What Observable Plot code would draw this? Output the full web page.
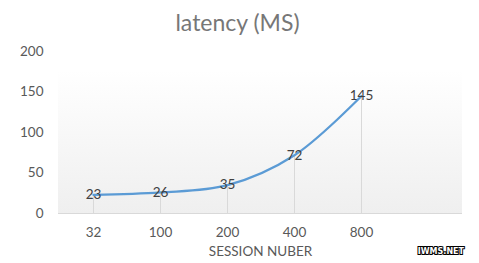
<!DOCTYPE html>
<html><head><meta charset="utf-8">
<script src="https://cdn.jsdelivr.net/npm/d3@7"></script>
<script src="https://cdn.jsdelivr.net/npm/@observablehq/plot@0.6"></script>
<style>body{margin:0;background:#fff}</style>
</head><body><div id="chart"></div>
<script>
const sessions = ["32", "100", "200", "400", "800"];
const latency = [23, 26, 35, 72, 145];
const xDomain = [...sessions, " "];
const yTicks = [0, 50, 100, 150, 200];
const title = "latency (MS)";
const xTitle = "SESSION NUBER";
const watermark = "IWMS.NET";

const data = sessions.map((s, i) => ({session: s, latency: latency[i]}));
const FONT = "Lato, 'Open Sans', sans-serif";

function background(index, scales, values, dim) {
  const g = d3.create("svg:g");
  const defs = g.append("defs");
  const lg = defs.append("linearGradient").attr("id", "bg").attr("x1", 0).attr("y1", 0).attr("x2", 0).attr("y2", 1);
  lg.append("stop").attr("offset", "0%").attr("stop-color", "#ffffff");
  lg.append("stop").attr("offset", "100%").attr("stop-color", "#efefef");
  const top = dim.marginTop + 19;
  const bottom = dim.height - dim.marginBottom;
  g.append("rect")
    .attr("x", dim.marginLeft).attr("y", top)
    .attr("width", dim.width - dim.marginLeft - dim.marginRight)
    .attr("height", bottom - top)
    .attr("fill", "url(#bg)");
  return g.node();
}

function chartTitle(index, scales, values, dim) {
  const g = d3.create("svg:g");
  g.append("text")
    .attr("x", dim.width / 2 - 2).attr("y", 25)
    .attr("text-anchor", "middle").attr("dominant-baseline", "middle")
    .attr("font-family", FONT).attr("font-size", 23)
    .attr("fill", "#777777")
    .text(title);
  g.append("text")
    .attr("x", dim.width - 15).attr("y", dim.height - 9)
    .attr("text-anchor", "end")
    .attr("font-family", "'DejaVu Sans', sans-serif")
    .attr("font-size", 8).attr("font-weight", "bold")
    .attr("fill", "#fff").attr("stroke", "#000").attr("stroke-width", 2)
    .attr("paint-order", "stroke")
    .text(watermark);
  return g.node();
}

const chart = Plot.plot({
  width: 479,
  height: 263,
  marginLeft: 58,
  marginRight: 17,
  marginTop: 51,
  marginBottom: 50,
  style: {fontFamily: FONT, background: "#fff"},
  x: {type: "point", domain: xDomain, padding: 0.5, label: null},
  y: {domain: [0, 200], label: null},
  marks: [
    background,
    Plot.ruleX(data, {x: "session", y1: 0, y2: "latency", stroke: "#d9d9d9", strokeWidth: 1}),
    Plot.ruleY([0], {stroke: "#d9d9d9", strokeWidth: 1.2}),
    Plot.axisY({ticks: yTicks, tickSize: 0, tickPadding: 15, fontSize: 13.5, fill: "#595959", label: null}),
    Plot.axisX({tickSize: 0, tickPadding: 14, fontSize: 13.5, fill: "#595959", label: null}),
    Plot.text([xTitle], {frameAnchor: "bottom", lineAnchor: "middle", dy: 38, fontSize: 13.5, fill: "#595959"}),
    Plot.line(data, {x: "session", y: "latency", stroke: "#5b9bd5", strokeWidth: 2.25, curve: "catmull-rom"}),
    Plot.text(data, {x: "session", y: "latency", text: d => String(d.latency), fontSize: 13.5, fill: "#404040"}),
    chartTitle
  ]
});
document.getElementById("chart").appendChild(chart);
</script>
</body></html>
